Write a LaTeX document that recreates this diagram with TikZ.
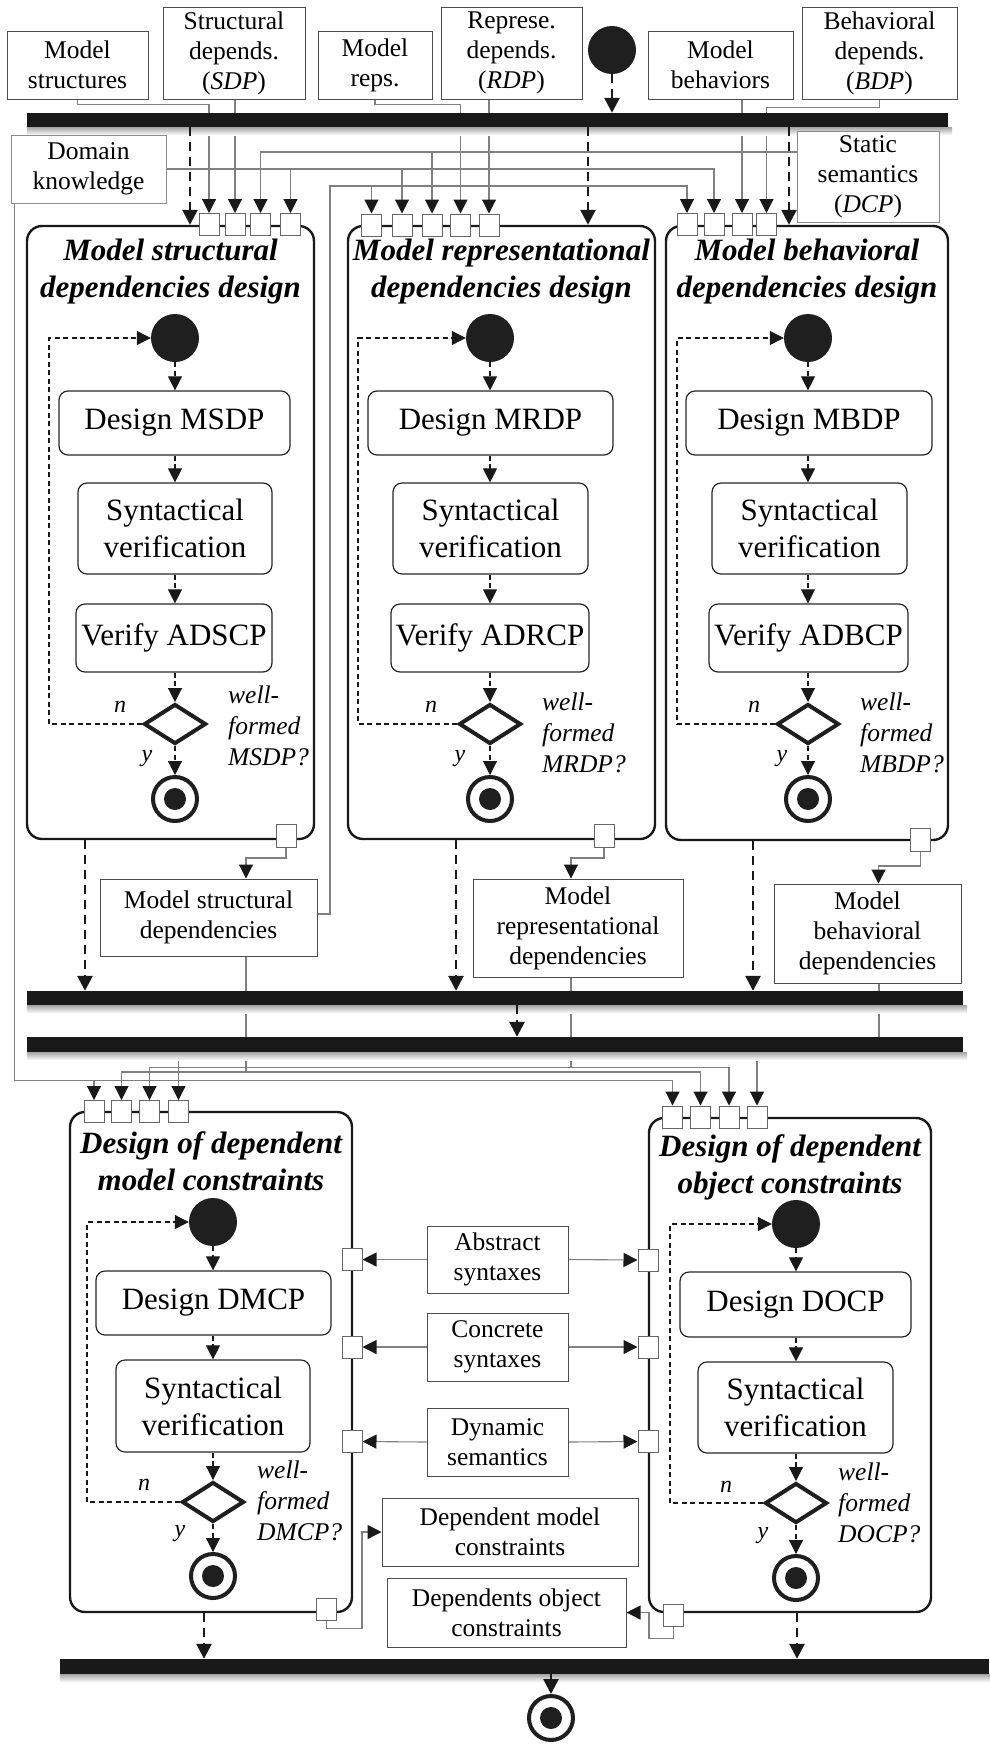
\documentclass[tikz,border=0pt]{standalone}
\usepackage{fontspec}
\setmainfont{Liberation Serif}
\usetikzlibrary{arrows.meta,shapes.geometric}
\pgfdeclarelayer{background}
\pgfsetlayers{background,main}

\tikzset{
  wire/.style={draw=black!50, line width=1.1pt, -{Triangle[width=14pt,length=14pt,color=black!90]}},
  ctrl/.style={draw=black!90, line width=2.6pt, dash pattern=on 9pt off 6pt, -{Triangle[width=15pt,length=15pt,color=black!90]}},
  flow/.style={draw=black!90, line width=1.1pt, dash pattern=on 5pt off 3.5pt, -{Triangle[width=14pt,length=14pt,color=black!90]}},
  data/.style={draw=black!70, line width=1pt, fill=white, align=center, inner sep=0pt, font=\fontsize{25.5}{30}\selectfont},
  act/.style={draw=black!85, line width=1.2pt, rounded corners=9pt, align=center, inner sep=0pt, font=\fontsize{31}{37}\selectfont},
  frame/.style={draw=black!90, line width=2.4pt, rounded corners=15pt, inner sep=0pt},
  ttl/.style={align=center, inner sep=0pt, font=\fontsize{31}{37}\selectfont\bfseries\itshape},
  port/.style={draw=black!60, line width=1pt, fill=white, minimum width=20pt, minimum height=22pt, inner sep=0pt},
  initial/.style={circle, fill=black!88, minimum size=48pt, inner sep=0pt},
  final/.style={circle, draw=black!88, line width=4pt, minimum size=44pt, inner sep=0pt,
    path picture={\fill[black!88] (path picture bounding box.center) circle (11pt);}},
  choice/.style={diamond, draw=black!88, line width=4pt, minimum width=62pt, minimum height=40pt, inner sep=0pt},
  bar/.style={fill=black!90, inner sep=0pt},
  ques/.style={align=left, anchor=north west, inner sep=0pt, font=\fontsize{25.5}{31}\selectfont\itshape},
  yn/.style={inner sep=0pt, font=\fontsize{24}{28}\selectfont\itshape},
}

\begin{document}
\begin{tikzpicture}[x=1pt,y=-1pt]
\useasboundingbox (0,0) rectangle (989,1746);

% ---------- synchronisation bars ----------
\node[bar, minimum width=921pt, minimum height=14pt] (bar0) at (487.5,120) {};
\node[bar, minimum width=936pt, minimum height=14pt] (bar1) at (495,998) {};
\node[bar, minimum width=936pt, minimum height=15pt] (bar2) at (495,1044.5) {};
\node[bar, minimum width=929pt, minimum height=15pt] (bar3) at (524.5,1666.5) {};
\foreach \b in {bar0,bar1,bar2,bar3}
  \shade[top color=black!35, bottom color=white] (\b.south west) rectangle ([xshift=4pt,yshift=-8pt]\b.south east);

% ---------- activity frames ----------
\node[frame, minimum width=287pt, minimum height=613pt] (fA) at (170.5,532.5) {};
\node[frame, minimum width=307pt, minimum height=613pt] (fB) at (501.5,532.5) {};
\node[frame, minimum width=282pt, minimum height=614pt] (fC) at (807,533) {};
\node[frame, minimum width=282pt, minimum height=500pt] (fD) at (211,1362) {};
\node[frame, minimum width=282pt, minimum height=494pt] (fE) at (790,1365) {};

% ---------- pins ----------
\node[port] (pA1) at (209,224.5) {};
\node[port] (pA2) at (235,224.5) {};
\node[port] (pA3) at (260.5,224.5) {};
\node[port] (pA4) at (290.5,224.5) {};
\node[port] (pB1) at (371.5,225) {};
\node[port] (pB2) at (402,225) {};
\node[port] (pB3) at (432,225) {};
\node[port] (pB4) at (460.5,225) {};
\node[port] (pB5) at (489,225) {};
\node[port] (pC1) at (687,224.5) {};
\node[port] (pC2) at (714,224.5) {};
\node[port] (pC3) at (742,224.5) {};
\node[port] (pC4) at (766.5,224.5) {};
\node[port, minimum height=23pt] (pAo) at (286,835.5) {};
\node[port, minimum height=23pt] (pBo) at (604,835.5) {};
\node[port, minimum height=23pt] (pCo) at (920.5,839.5) {};
\node[port] (pD1) at (94,1111.5) {};
\node[port] (pD2) at (121.5,1111.5) {};
\node[port] (pD3) at (149.5,1111.5) {};
\node[port] (pD4) at (178.5,1111.5) {};
\node[port] (pE1) at (672.5,1117) {};
\node[port] (pE2) at (700.5,1117) {};
\node[port] (pE3) at (729,1117) {};
\node[port] (pE4) at (757,1117) {};
\node[port] (pDa) at (352,1259.5) {};
\node[port] (pDb) at (352,1347) {};
\node[port] (pDc) at (352,1441.5) {};
\node[port] (pEa) at (648,1260) {};
\node[port] (pEb) at (648,1347) {};
\node[port] (pEc) at (648,1441.5) {};
\node[port] (pDo) at (326.5,1609) {};
\node[port] (pEo) at (673.5,1615) {};

% ---------- object nodes ----------
\node[data, minimum width=141pt, minimum height=68pt] (ms) at (77.5,65) {Model\\structures};
\node[data, minimum width=142pt, minimum height=92pt] (sdp) at (234,53) {Structural\\depends.\\(\textit{SDP})};
\node[data, minimum width=114pt, minimum height=68pt] (mr) at (375,65) {Model\\reps.};
\node[data, minimum width=141pt, minimum height=92pt] (rdp) at (511.5,53) {Represe.\\depends.\\(\textit{RDP})};
\node[data, minimum width=145pt, minimum height=68pt] (mb) at (720.5,65) {Model\\behaviors};
\node[data, minimum width=155pt, minimum height=92pt] (bdp) at (879.5,53) {Behavioral\\depends.\\(\textit{BDP})};
\node[data, draw=black!45, minimum width=155pt, minimum height=68pt] (dk) at (88.5,169) {Domain\\knowledge};
\node[data, draw=black!45, minimum width=142pt, minimum height=91pt] (ss) at (868,176.5) {Static\\semantics\\(\textit{DCP})};
\node[data, minimum width=217pt, minimum height=77pt] (msd) at (208.5,917.5) {Model structural\\dependencies};
\node[data, minimum width=210pt, minimum height=98pt] (mrd) at (578,928) {Model\\representational\\dependencies};
\node[data, minimum width=187pt, minimum height=99pt] (mbd) at (867.5,933.5) {Model\\behavioral\\dependencies};
\node[data, minimum width=141pt, minimum height=67pt] (abs) at (497.5,1259.5) {Abstract\\syntaxes};
\node[data, minimum width=141pt, minimum height=68pt] (con) at (497.5,1347) {Concrete\\syntaxes};
\node[data, minimum width=141pt, minimum height=68pt] (dyn) at (497.5,1442) {Dynamic\\semantics};
\node[data, minimum width=256pt, minimum height=68pt] (dmc) at (510,1532) {Dependent model\\constraints};
\node[data, minimum width=239pt, minimum height=69pt] (doc) at (506.5,1612.5) {Dependents object\\constraints};

% ---------- start and end ----------
\node[initial] (s0) at (612,50) {};
\node[final] (f0) at (551,1718) {};

% ---------- object flows ----------
\begin{pgfonlayer}{background}
\draw[wire] (ms.south) -- ++(0,5) -| (pA1.north);
\draw[wire] (pA2.north |- sdp.south) -- (pA2.north);
\draw[wire] (mr.south) -- ++(0,5) -| (pB4.north);
\draw[wire] (pB5.north |- rdp.south) -- (pB5.north);
\draw[wire] (pC3.north |- mb.south) -- (pC3.north);
\draw[wire] (bdp.south) -- ++(0,8) -| (pC4.north);
\draw[wire] (dk.east) -| (pA4.north);
\draw[wire] (dk.east) -| (pB2.north);
\draw[wire] (dk.east) -| (pC2.north);
\draw[wire] ([yshift=24.5pt]ss.west) -| (pA3.north);
\draw[wire] ([yshift=24.5pt]ss.west) -| (pB3.north);
\coordinate (up) at (330,186);
\draw[wire] ([yshift=3.5pt]msd.east) -| (up) -| (pB1.north);
\draw[wire] ([yshift=3.5pt]msd.east) -| (up) -| (pC1.north);
\draw[wire] (pAo.south) -- ++(0,10.5) -| ([xshift=37.5pt]msd.north);
\draw[wire] (pBo.south) -- ++(0,10.5) -| ([xshift=-7pt]mrd.north);
\draw[wire] (pCo.south) -- ++(0,14.5) -| ([xshift=11pt]mbd.north);
\draw[wire] ([xshift=4pt]dk.south west) -- ++(0,877) -| (pD1.north);
\draw[wire] ([xshift=4pt]dk.south west) -- ++(0,877) -| (pE1.north);
\draw[wire] ([xshift=37.5pt]msd.south) -- ++(0,115.5) -| (pD2.north);
\draw[wire] ([xshift=37.5pt]msd.south) -- ++(0,115.5) -| (pE2.north);
\draw[wire] ([xshift=-7pt]mrd.south) -- ++(0,90) -| (pD3.north);
\draw[wire] ([xshift=-7pt]mrd.south) -- ++(0,90) -| (pE3.north);
\draw[wire] ([xshift=11.5pt]mbd.south) -- ++(0,75) -| (pD4.north);
\draw[wire] ([xshift=11.5pt]mbd.south) -- ++(0,75) -| (pE4.north);
\draw[wire] (abs.west) -- (pDa.east);
\draw[wire] (abs.east) -- (pEa.west);
\draw[wire] (con.west) -- (pDb.east);
\draw[wire] (con.east) -- (pEb.west);
\draw[wire] (dyn.west) -- (pDc.east);
\draw[wire] (dyn.east) -- (pEc.west);
\draw[wire] (pDo.south) -- ++(0,8) -- ++(35.5,0) |- (dmc.west);
\draw[wire] (pEo.south) -- ++(0,12) -- ++(-24.5,0) |- (doc.east);
\end{pgfonlayer}

% ---------- control flows between activities ----------
\draw[ctrl] (s0) -- (s0 |- bar0.north);
\draw[ctrl] (190,0 |- bar0.south) -- (190,0 |- fA.north);
\draw[ctrl] (588,0 |- bar0.south) -- (588,0 |- fB.north);
\draw[ctrl] (789,0 |- bar0.south) -- (789,0 |- fC.north);
\draw[ctrl] (85,0 |- fA.south) -- (85,0 |- bar1.north);
\draw[ctrl] (456,0 |- fB.south) -- (456,0 |- bar1.north);
\draw[ctrl] (753,0 |- fC.south) -- (753,0 |- bar1.north);
\draw[ctrl] (517,0 |- bar1.south) -- (517,0 |- bar2.north);
\draw[ctrl] (204,0 |- fD.south) -- (204,0 |- bar3.north);
\draw[ctrl] (797,0 |- fE.south) -- (797,0 |- bar3.north);
\draw[ctrl] (f0 |- bar3.south) -- (f0);

% ---------- structural dependencies activity ----------
\node[ttl] (tA) at (170.5,272) {Model structural\\dependencies design};
\node[initial] (sA) at (175,338) {};
\node[act, minimum width=231pt, minimum height=64pt] (dA) at (174.5,423) {Design MSDP};
\node[act, minimum width=194pt, minimum height=91pt] (vA) at (175,528.5) {Syntactical\\verification};
\node[act, minimum width=196pt, minimum height=68pt] (kA) at (174,638) {Verify ADSCP};
\node[choice] (cA) at (175,724) {};
\node[final] (eA) at (175,799) {};
\node[yn] (nA) at (120,707) {n};
\node[yn] (yA) at (147,759) {y};
\node[ques] (qA) at (228,686) {well-\\formed\\MSDP?};
\draw[flow] (sA) -- (sA |- dA.north);
\draw[flow] (sA |- dA.south) -- (sA |- vA.north);
\draw[flow] (sA |- vA.south) -- (sA |- kA.north);
\draw[flow] (sA |- kA.south) -- (cA);
\draw[flow] (cA) -- (eA);
\draw[flow] (cA.west) -- (49,0 |- cA.west) |- (sA.west);

% ---------- representational dependencies activity ----------
\node[ttl] (tB) at (501.5,272) {Model representational\\dependencies design};
\node[initial] (sB) at (490,338) {};
\node[act, minimum width=245pt, minimum height=64pt] (dB) at (490.5,423) {Design MRDP};
\node[act, minimum width=195pt, minimum height=91pt] (vB) at (490.5,528.5) {Syntactical\\verification};
\node[act, minimum width=198pt, minimum height=68pt] (kB) at (490,638) {Verify ADRCP};
\node[choice] (cB) at (490,724) {};
\node[final] (eB) at (490,799) {};
\node[yn] (nB) at (431,707) {n};
\node[yn] (yB) at (460,759) {y};
\node[ques] (qB) at (542,692.5) {well-\\formed\\MRDP?};
\draw[flow] (sB) -- (sB |- dB.north);
\draw[flow] (sB |- dB.south) -- (sB |- vB.north);
\draw[flow] (sB |- vB.south) -- (sB |- kB.north);
\draw[flow] (sB |- kB.south) -- (cB);
\draw[flow] (cB) -- (eB);
\draw[flow] (cB.west) -- (358,0 |- cB.west) |- (sB.west);

% ---------- behavioral dependencies activity ----------
\node[ttl] (tC) at (807,272) {Model behavioral\\dependencies design};
\node[initial] (sC) at (808,338) {};
\node[act, minimum width=246pt, minimum height=64pt] (dC) at (809,423) {Design MBDP};
\node[act, minimum width=195pt, minimum height=91pt] (vC) at (809.5,528.5) {Syntactical\\verification};
\node[act, minimum width=199pt, minimum height=68pt] (kC) at (808.5,638) {Verify ADBCP};
\node[choice] (cC) at (808,724) {};
\node[final] (eC) at (808,799) {};
\node[yn] (nC) at (754,707) {n};
\node[yn] (yC) at (782,759) {y};
\node[ques] (qC) at (860,692.5) {well-\\formed\\MBDP?};
\draw[flow] (sC) -- (sC |- dC.north);
\draw[flow] (sC |- dC.south) -- (sC |- vC.north);
\draw[flow] (sC |- vC.south) -- (sC |- kC.north);
\draw[flow] (sC |- kC.south) -- (cC);
\draw[flow] (cC) -- (eC);
\draw[flow] (cC.west) -- (677,0 |- cC.west) |- (sC.west);

% ---------- dependent model constraints activity ----------
\node[ttl] (tD) at (211,1161) {Design of dependent\\model constraints};
\node[initial] (sD) at (213,1222) {};
\node[act, minimum width=235pt, minimum height=64pt] (dD) at (213.5,1303) {Design DMCP};
\node[act, minimum width=194pt, minimum height=92pt] (vD) at (213,1406) {Syntactical\\verification};
\node[choice] (cD) at (213,1502) {};
\node[final] (eD) at (213,1576) {};
\node[yn] (nD) at (144,1485) {n};
\node[yn] (yD) at (180,1534) {y};
\node[ques] (qD) at (257,1460.5) {well-\\formed\\DMCP?};
\draw[flow] (sD) -- (sD |- dD.north);
\draw[flow] (sD |- dD.south) -- (sD |- vD.north);
\draw[flow] (sD |- vD.south) -- (cD);
\draw[flow] (cD) -- (eD);
\draw[flow] (cD.west) -- (87,0 |- cD.west) |- (sD.west);

% ---------- dependent object constraints activity ----------
\node[ttl] (tE) at (790,1167) {Design of dependent\\object constraints};
\node[initial] (sE) at (796,1224) {};
\node[act, minimum width=231pt, minimum height=65pt] (dE) at (795.5,1304.5) {Design DOCP};
\node[act, minimum width=195pt, minimum height=91pt] (vE) at (795.5,1407.5) {Syntactical\\verification};
\node[choice] (cE) at (796,1503) {};
\node[final] (eE) at (796,1578) {};
\node[yn] (nE) at (726,1487) {n};
\node[yn] (yE) at (763,1536) {y};
\node[ques] (qE) at (838,1462.5) {well-\\formed\\DOCP?};
\draw[flow] (sE) -- (sE |- dE.north);
\draw[flow] (sE |- dE.south) -- (sE |- vE.north);
\draw[flow] (sE |- vE.south) -- (cE);
\draw[flow] (cE) -- (eE);
\draw[flow] (cE.west) -- (670,0 |- cE.west) |- (sE.west);

\end{tikzpicture}
\end{document}
